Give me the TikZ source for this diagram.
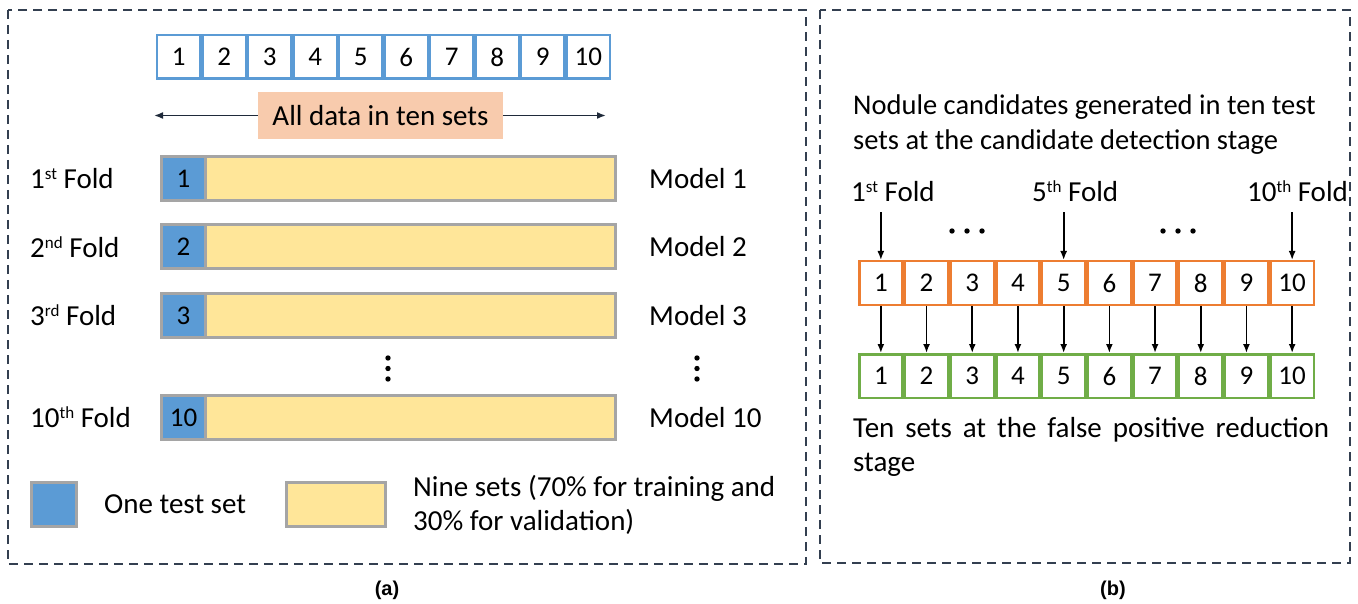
\documentclass[tikz,border=0pt]{standalone}
\usepackage{fontspec}
\setmainfont{Carlito}
\newfontfamily\capfont{Liberation Sans}
\usetikzlibrary{positioning,arrows.meta}
\definecolor{setblue}{HTML}{5B9BD5}
\definecolor{peach}{HTML}{F8CBAD}
\definecolor{sand}{HTML}{FFE699}
\definecolor{frame}{HTML}{A5A5A5}
\definecolor{tangerine}{HTML}{ED7D31}
\definecolor{grass}{HTML}{70AD47}
\definecolor{slate}{HTML}{333F50}
\definecolor{ink}{HTML}{1F2A3A}
\newcommand{\ordsup}[1]{\raisebox{9pt}{\fontsize{17}{17}\selectfont #1}}

\begin{document}
\begin{tikzpicture}[x=1pt, y=-1pt,
  txt/.style={font=\fontsize{29}{34}\selectfont, inner sep=2pt},
  cell/.style={draw=#1, line width=2.5pt, fill=white, minimum width=43.2pt, minimum height=43.5pt, inner sep=0pt, font=\fontsize{27}{30}\selectfont},
  bar/.style={draw=frame, line width=3pt, fill=sand, minimum width=454pt, minimum height=44pt, inner sep=0pt},
  testcell/.style={draw=frame, line width=3pt, fill=setblue, minimum width=44pt, minimum height=44pt, inner sep=0pt, font=\fontsize{27}{30}\selectfont},
  arr/.style={-{Latex[length=9pt,width=7pt]}, line width=1.7pt},
  panel/.style={draw=slate, line width=2pt, dash pattern=on 9pt off 6pt}]
\useasboundingbox (0,0) rectangle (1358,604);

\draw[panel] (8,10) rectangle (806,564);
\draw[panel] (820,10) rectangle (1350,563);

\foreach \i in {1,...,10}
  \node[cell=setblue] (t\i) at ({156+45.5*(\i-0.5)},57) {\i};

\node[txt, fill=peach, minimum width=245pt, minimum height=47pt] (alldata) at (380.5,115.5) {All data in ten sets};
\coordinate (lend) at (154,115.5);
\coordinate (rend) at (606,115.5);
\draw[arr, draw=ink] (alldata) -- (lend);
\draw[arr, draw=ink] (alldata) -- (rend);

\foreach \n/\y/\ord in {1/178.5/st, 2/247/nd, 3/315.5/rd, 10/417.5/th} {
  \node[bar] (bar\n) at (388.5,\y) {};
  \node[testcell, anchor=west] (tc\n) at (bar\n.west) {\n};
  \node[txt, anchor=west] (fold\n) at (28,\y) {\n\ordsup{\ord} Fold};
  \node[txt, right=30pt of bar\n] (model\n) {Model \n};
}
\foreach \x in {388,697}
  \foreach \y in {358,368.5,379}
    \fill (\x,\y) circle (2.7pt);

\node[testcell, minimum width=45pt] (legtest) at (54,504.5) {};
\node[txt, right=24pt of legtest] (legtesttxt) {One test set};
\node[bar, minimum width=99pt] (legtrain) at (336,504.5) {};
\node[txt, right=24pt of legtrain, align=left] (legtraintxt) {Nine sets (70\% for training and\\30\% for validation)};

\node[txt, font=\fontsize{28.5}{35}\selectfont, anchor=north west, align=left] (candtxt) at (851,93) {Nodule candidates generated in ten test\\sets at the candidate detection stage};

\node[txt, anchor=base west] (top1) at (849,202) {1\ordsup{st} Fold};
\node[txt, anchor=base west] (top5) at (1030,202) {5\ordsup{th} Fold};
\node[txt, anchor=base west] (top10) at (1245,202) {10\ordsup{th} Fold};

\foreach \i in {1,...,10} {
  \node[cell=tangerine] (c\i) at ({858+45.7*(\i-0.5)},283) {\i};
  \node[cell=grass] (r\i) at ({858+45.7*(\i-0.5)},376) {\i};
  \draw[arr] (c\i) -- (r\i);
}
\draw[arr, shorten <=8pt] (top1.south -| c1) -- (c1);
\draw[arr, shorten <=8pt] (top5.south -| c5) -- (c5);
\draw[arr, shorten <=8pt] (top10.south -| c10) -- (c10);
\foreach \x in {952,967,982,1163,1178,1193}
  \fill (\x,231) circle (2.7pt);

\node[txt, anchor=north west, text width=476pt, align=justify] (fprtxt) at (851,415) {Ten sets at the false positive reduction stage};

\node[font=\capfont\bfseries\fontsize{20}{24}\selectfont] (capa) at (387,590) {(a)};
\node[font=\capfont\bfseries\fontsize{20}{24}\selectfont] (capb) at (1113,590) {(b)};
\end{tikzpicture}
\end{document}
